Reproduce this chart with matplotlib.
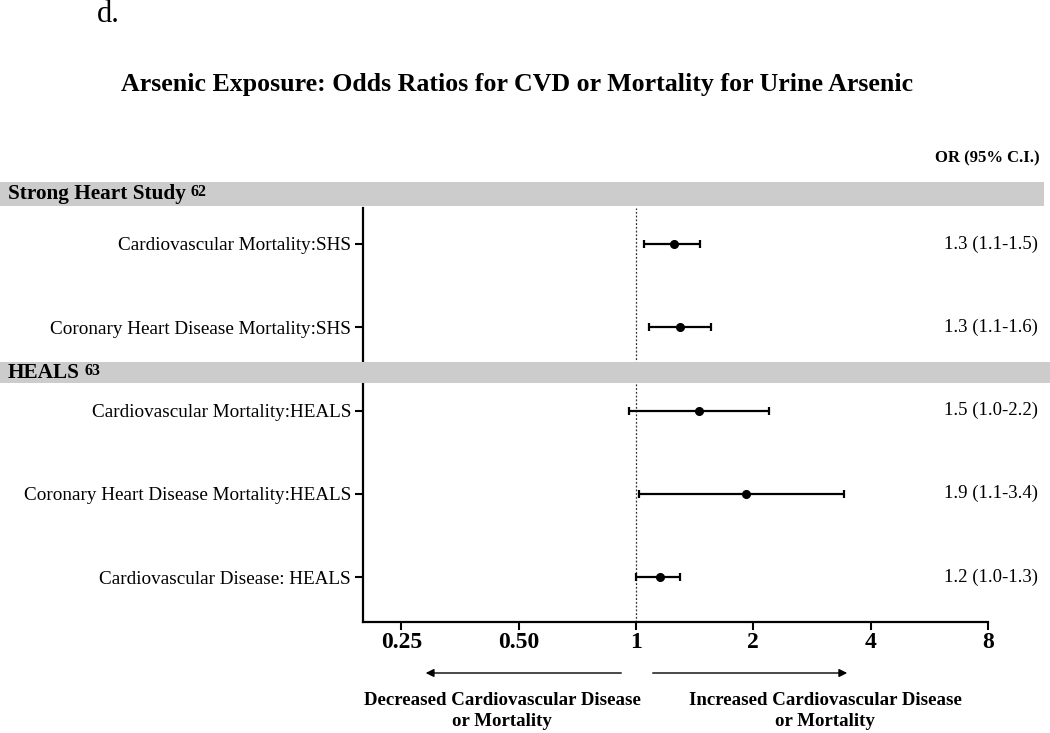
import matplotlib
matplotlib.use("Agg")
import matplotlib.pyplot as plt
from matplotlib.patches import Rectangle
from matplotlib.transforms import blended_transform_factory
import numpy as np

plt.rcParams['font.family'] = ['Liberation Serif', 'DejaVu Serif']

# ---- data ----
row_labels = ["Cardiovascular Mortality:SHS",
              "Coronary Heart Disease Mortality:SHS",
              "Cardiovascular Mortality:HEALS",
              "Coronary Heart Disease Mortality:HEALS",
              "Cardiovascular Disease: HEALS"]
odds_ratio = [1.25, 1.30, 1.45, 1.91, 1.15]
ci_low = [1.05, 1.08, 0.96, 1.02, 1.00]
ci_high = [1.46, 1.56, 2.19, 3.41, 1.30]
or_text = ["1.3 (1.1-1.5)", "1.3 (1.1-1.6)", "1.5 (1.0-2.2)",
           "1.9 (1.1-3.4)", "1.2 (1.0-1.3)"]
group_names = ["Strong Heart Study", "HEALS"]
group_refs = ["62", "63"]
x_ticks = [0.25, 0.5, 1, 2, 4, 8]
x_tick_labels = ["0.25", "0.50", "1", "2", "4", "8"]

W, H = 1050, 733
fig = plt.figure(figsize=(W / 100, H / 100), dpi=100)

def fx(px):
    return px / W

def fy(py):
    return 1 - py / H

ax_left, ax_right, ax_top, ax_bot = 362.7, 988, 208, 622
ax = fig.add_axes([fx(ax_left), fy(ax_bot), fx(ax_right - ax_left), (ax_bot - ax_top) / H])
ax.set_xscale('log', base=2)
ax.set_xlim(0.199, 8)
ypos = np.arange(len(row_labels))
ax.set_ylim(4.54, -0.432)

for s in ['top', 'right']:
    ax.spines[s].set_visible(False)
for s in ['left', 'bottom']:
    ax.spines[s].set_linewidth(1.6)

ax.set_yticks(ypos)
ax.set_yticklabels(row_labels, fontsize=13.75)
ax.set_xticks(x_ticks)
ax.set_xticklabels(x_tick_labels, fontsize=17, fontweight='bold')
ax.xaxis.set_minor_locator(matplotlib.ticker.NullLocator())
ax.tick_params(axis='y', direction='out', length=6, width=1.5, pad=2.5)
ax.tick_params(axis='x', direction='out', length=6, width=1.5, pad=1)

# reference line
ax.axvline(1, color='#333333', lw=0.9, ls=(0, (1.5, 1.5)), zorder=1)

# error bars
err = [np.array(odds_ratio) - np.array(ci_low), np.array(ci_high) - np.array(odds_ratio)]
ax.errorbar(odds_ratio, ypos, xerr=err, fmt='o', color='black', ms=5.5,
            elinewidth=1.6, capsize=3.2, capthick=1.6, zorder=3)

# OR text
for y, t in zip(ypos, or_text):
    ax.text(fx(1038), y, t, transform=blended_transform_factory(fig.transFigure, ax.transData),
            ha='right', va='center', fontsize=13.5)

# group bands
btrans = blended_transform_factory(fig.transFigure, ax.transData)
band_spans = [(-0.745, -0.456, fx(1044)), (1.42, 1.67, 1.0)]
for (y0, y1, xr), name, ref in zip(band_spans, group_names, group_refs):
    r = Rectangle((0, y0), xr, y1 - y0, transform=btrans, facecolor='#cccccc',
                  edgecolor='none', clip_on=False, zorder=5)
    ax.add_patch(r)
    t = ax.text(fx(8), (y0 + y1) / 2, name, transform=btrans, ha='left', va='center',
                fontsize=15.3, fontweight='bold', zorder=6, clip_on=False)
    ax.annotate(ref, xy=(1, 1.0), xycoords=t, xytext=(3, 0), textcoords='offset points',
                ha='left', va='top', fontsize=11.5, fontweight='bold', zorder=6,
                annotation_clip=False)

# header, title, panel letter
fig.text(fx(1040), fy(158), "OR (95% C.I.)", ha='right', va='center', fontsize=12, fontweight='bold')
fig.text(fx(517), fy(84), "Arsenic Exposure: Odds Ratios for CVD or Mortality for Urine Arsenic",
         ha='center', va='center', fontsize=18.6, fontweight='bold')
fig.text(fx(97), fy(14), "d.", ha='left', va='center', fontsize=22)

# direction arrows
atrans = blended_transform_factory(ax.transData, fig.transFigure)
ax.annotate("", xy=(0.284, fy(673)), xycoords=atrans, xytext=(0.932, fy(673)), textcoords=atrans,
            arrowprops=dict(arrowstyle='-|>', color='black', lw=1.0, mutation_scale=12),
            annotation_clip=False)
ax.annotate("", xy=(3.54, fy(673)), xycoords=atrans, xytext=(1.086, fy(673)), textcoords=atrans,
            arrowprops=dict(arrowstyle='-|>', color='black', lw=1.0, mutation_scale=12),
            annotation_clip=False)
fig.text(fx(502), fy(711), "Decreased Cardiovascular Disease\nor Mortality", ha='center', va='center',
         fontsize=13.6, fontweight='bold', linespacing=1.3)
fig.text(fx(825), fy(711), "Increased Cardiovascular Disease\nor Mortality", ha='center', va='center',
         fontsize=13.6, fontweight='bold', linespacing=1.3)

fig.savefig("out.png", dpi=100)
